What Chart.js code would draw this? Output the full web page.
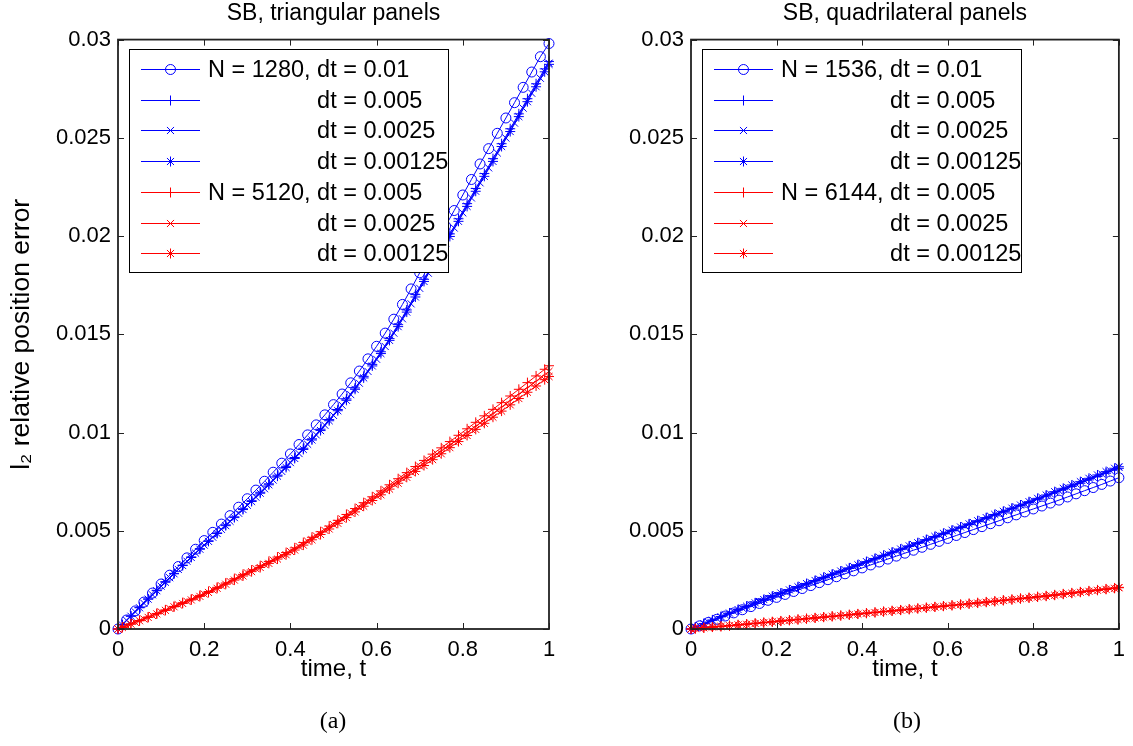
<!DOCTYPE html>
<html><head><meta charset="utf-8">
<script src="https://cdn.jsdelivr.net/npm/chart.js@4.4.1/dist/chart.umd.min.js"></script>
<style>
html,body{margin:0;padding:0;background:#fff;width:1133px;height:746px;overflow:hidden;position:relative}
canvas{position:absolute;top:0}
#c1{left:0}
#c2{left:566px}
.cap{position:absolute;top:706px;width:120px;text-align:center;font-family:'Liberation Serif','Times New Roman',serif;font-size:24px;color:#000;line-height:28px}
</style></head><body>
<canvas id="c1" width="566" height="746"></canvas>
<canvas id="c2" width="567" height="746"></canvas>
<div class="cap" style="left:273px">(a)</div>
<div class="cap" style="left:847px">(b)</div>
<script>
// ---- data ----
// sample times (two interleaved samplings of the time axis)
const timeEven = [0,0.02,0.04,0.06,0.08,0.1,0.12,0.14,0.16,0.18,0.2,0.22,0.24,0.26,0.28,0.3,0.32,0.34,0.36,0.38,0.4,0.42,0.44,0.46,0.48,0.5,0.52,0.54,0.56,0.58,0.6,0.62,0.64,0.66,0.68,0.7,0.72,0.74,0.76,0.78,0.8,0.82,0.84,0.86,0.88,0.9,0.92,0.94,0.96,0.98,1];
const timeOdd = [0,0.01,0.03,0.05,0.07,0.09,0.11,0.13,0.15,0.17,0.19,0.21,0.23,0.25,0.27,0.29,0.31,0.33,0.35,0.37,0.39,0.41,0.43,0.45,0.47,0.49,0.51,0.53,0.55,0.57,0.59,0.61,0.63,0.65,0.67,0.69,0.71,0.73,0.75,0.77,0.79,0.81,0.83,0.85,0.87,0.89,0.91,0.93,0.95,0.97,0.99,1];
const xTickLabels = ['0','0.2','0.4','0.6','0.8','1'];
const yTickLabels = ['0','0.005','0.01','0.015','0.02','0.025','0.03'];

const triLabels = ['N = 1280, dt = 0.01','dt = 0.005','dt = 0.0025','dt = 0.00125','N = 5120, dt = 0.005','dt = 0.0025','dt = 0.00125'];
const quadLabels = ['N = 1536, dt = 0.01','dt = 0.005','dt = 0.0025','dt = 0.00125','N = 6144, dt = 0.005','dt = 0.0025','dt = 0.00125'];

// triangular panels, N = 1280
const triBlue01 = [0,0.00046,0.00092,0.00137,0.00183,0.00229,0.00274,0.00318,0.00362,0.00406,0.00450,0.00492,0.00534,0.00577,0.00620,0.00663,0.00707,0.00752,0.00798,0.00844,0.00891,0.00939,0.00988,0.01039,0.01090,0.01142,0.01196,0.01253,0.01313,0.01375,0.01439,0.01506,0.01577,0.01652,0.01731,0.01813,0.01893,0.01972,0.02051,0.02130,0.02209,0.02288,0.02367,0.02445,0.02523,0.02601,0.02679,0.02757,0.02835,0.02913,0.02980];
const triBlue005 = [0,0.00022,0.00066,0.00110,0.00153,0.00197,0.00241,0.00283,0.00325,0.00367,0.00409,0.00449,0.00489,0.00530,0.00571,0.00612,0.00653,0.00696,0.00739,0.00783,0.00828,0.00873,0.00920,0.00968,0.01017,0.01066,0.01117,0.01171,0.01227,0.01286,0.01347,0.01411,0.01478,0.01549,0.01624,0.01702,0.01780,0.01857,0.01934,0.02011,0.02088,0.02165,0.02242,0.02318,0.02394,0.02470,0.02546,0.02622,0.02699,0.02775,0.02851,0.02889];
const triBlue0025 = [0,0.00044,0.00087,0.00131,0.00174,0.00218,0.00261,0.00303,0.00345,0.00386,0.00427,0.00467,0.00507,0.00548,0.00589,0.00630,0.00671,0.00714,0.00758,0.00802,0.00847,0.00893,0.00940,0.00988,0.01037,0.01087,0.01139,0.01193,0.01251,0.01311,0.01373,0.01438,0.01506,0.01579,0.01655,0.01734,0.01811,0.01888,0.01964,0.02041,0.02118,0.02194,0.02271,0.02347,0.02423,0.02499,0.02575,0.02651,0.02727,0.02803,0.02880];
const triBlue00125 = [0,0.00021,0.00065,0.00108,0.00152,0.00195,0.00238,0.00281,0.00323,0.00364,0.00406,0.00446,0.00486,0.00526,0.00567,0.00608,0.00649,0.00691,0.00734,0.00778,0.00822,0.00868,0.00914,0.00962,0.01010,0.01060,0.01111,0.01164,0.01220,0.01278,0.01339,0.01402,0.01469,0.01539,0.01613,0.01690,0.01769,0.01846,0.01922,0.01998,0.02075,0.02151,0.02228,0.02304,0.02380,0.02456,0.02532,0.02608,0.02684,0.02760,0.02836,0.02874];
// triangular panels, N = 5120
const triRed005 = [0,0.00009,0.00026,0.00043,0.00061,0.00079,0.00097,0.00115,0.00134,0.00152,0.00171,0.00191,0.00212,0.00234,0.00256,0.00278,0.00300,0.00322,0.00344,0.00366,0.00389,0.00413,0.00440,0.00467,0.00495,0.00524,0.00553,0.00583,0.00613,0.00643,0.00673,0.00703,0.00734,0.00765,0.00796,0.00827,0.00858,0.00890,0.00922,0.00954,0.00986,0.01019,0.01052,0.01085,0.01118,0.01152,0.01186,0.01220,0.01254,0.01288,0.01322,0.01340];
const triRed0025 = [0,0.00017,0.00034,0.00051,0.00069,0.00087,0.00105,0.00123,0.00141,0.00159,0.00178,0.00199,0.00220,0.00242,0.00264,0.00286,0.00307,0.00329,0.00351,0.00373,0.00395,0.00420,0.00447,0.00474,0.00502,0.00531,0.00560,0.00590,0.00619,0.00649,0.00678,0.00708,0.00738,0.00768,0.00798,0.00829,0.00860,0.00891,0.00922,0.00953,0.00984,0.01016,0.01048,0.01080,0.01113,0.01146,0.01179,0.01212,0.01245,0.01278,0.01311];
const triRed00125 = [0,0.00008,0.00025,0.00042,0.00059,0.00077,0.00095,0.00113,0.00130,0.00148,0.00166,0.00186,0.00207,0.00228,0.00249,0.00270,0.00292,0.00313,0.00334,0.00356,0.00378,0.00402,0.00427,0.00454,0.00481,0.00509,0.00538,0.00567,0.00596,0.00625,0.00654,0.00683,0.00712,0.00742,0.00772,0.00802,0.00832,0.00862,0.00892,0.00923,0.00954,0.00985,0.01016,0.01047,0.01078,0.01109,0.01141,0.01173,0.01205,0.01237,0.01269,0.01285];

// quadrilateral panels, N = 1536
const quadBlue01 = [0,0.00016,0.00033,0.00049,0.00066,0.00082,0.00098,0.00114,0.00130,0.00146,0.00161,0.00176,0.00191,0.00206,0.00221,0.00236,0.00251,0.00266,0.00281,0.00296,0.00311,0.00326,0.00341,0.00356,0.00371,0.00386,0.00401,0.00416,0.00431,0.00446,0.00461,0.00476,0.00491,0.00506,0.00521,0.00536,0.00551,0.00566,0.00581,0.00596,0.00611,0.00626,0.00641,0.00656,0.00672,0.00688,0.00704,0.00720,0.00736,0.00753,0.00770];
const quadBlue005 = [0,0.00009,0.00027,0.00045,0.00062,0.00080,0.00097,0.00114,0.00131,0.00147,0.00164,0.00180,0.00196,0.00212,0.00228,0.00244,0.00260,0.00276,0.00292,0.00308,0.00324,0.00340,0.00356,0.00372,0.00388,0.00404,0.00420,0.00436,0.00452,0.00468,0.00484,0.00500,0.00516,0.00532,0.00548,0.00564,0.00580,0.00596,0.00612,0.00628,0.00644,0.00660,0.00676,0.00692,0.00709,0.00725,0.00742,0.00759,0.00776,0.00793,0.00810,0.00818];
const quadBlue0025 = [0,0.00018,0.00036,0.00054,0.00072,0.00089,0.00106,0.00123,0.00140,0.00157,0.00174,0.00190,0.00206,0.00222,0.00238,0.00254,0.00270,0.00286,0.00302,0.00318,0.00334,0.00350,0.00366,0.00382,0.00398,0.00414,0.00430,0.00446,0.00462,0.00478,0.00494,0.00510,0.00526,0.00542,0.00558,0.00574,0.00590,0.00606,0.00622,0.00638,0.00654,0.00670,0.00687,0.00704,0.00721,0.00738,0.00755,0.00772,0.00789,0.00806,0.00823];
const quadBlue00125 = [0,0.00009,0.00027,0.00045,0.00063,0.00081,0.00099,0.00116,0.00133,0.00150,0.00167,0.00183,0.00199,0.00215,0.00231,0.00247,0.00263,0.00279,0.00295,0.00311,0.00327,0.00343,0.00359,0.00375,0.00391,0.00407,0.00423,0.00439,0.00455,0.00471,0.00487,0.00503,0.00519,0.00535,0.00551,0.00567,0.00583,0.00599,0.00615,0.00631,0.00648,0.00665,0.00682,0.00699,0.00716,0.00733,0.00750,0.00767,0.00784,0.00801,0.00818,0.00826];
// quadrilateral panels, N = 6144
const quadRed005 = [0,0.00002,0.00006,0.00010,0.00014,0.00017,0.00021,0.00025,0.00029,0.00033,0.00037,0.00041,0.00045,0.00049,0.00053,0.00057,0.00061,0.00065,0.00069,0.00073,0.00077,0.00081,0.00085,0.00089,0.00093,0.00097,0.00101,0.00105,0.00109,0.00113,0.00117,0.00121,0.00125,0.00130,0.00134,0.00138,0.00142,0.00147,0.00151,0.00156,0.00160,0.00165,0.00169,0.00174,0.00179,0.00184,0.00189,0.00194,0.00199,0.00204,0.00209,0.00212];
const quadRed0025 = [0,0.00004,0.00008,0.00011,0.00015,0.00019,0.00023,0.00027,0.00031,0.00035,0.00039,0.00042,0.00046,0.00050,0.00054,0.00058,0.00062,0.00066,0.00070,0.00074,0.00078,0.00082,0.00086,0.00090,0.00094,0.00098,0.00102,0.00106,0.00110,0.00114,0.00118,0.00122,0.00126,0.00131,0.00135,0.00139,0.00143,0.00148,0.00152,0.00157,0.00161,0.00166,0.00170,0.00175,0.00180,0.00185,0.00190,0.00195,0.00200,0.00205,0.00211];
const quadRed00125 = [0,0.00002,0.00006,0.00010,0.00013,0.00017,0.00021,0.00024,0.00028,0.00032,0.00036,0.00040,0.00044,0.00048,0.00052,0.00056,0.00060,0.00064,0.00068,0.00072,0.00076,0.00080,0.00084,0.00088,0.00092,0.00096,0.00100,0.00104,0.00108,0.00112,0.00116,0.00120,0.00124,0.00128,0.00132,0.00136,0.00140,0.00145,0.00149,0.00154,0.00158,0.00163,0.00167,0.00172,0.00177,0.00182,0.00187,0.00192,0.00197,0.00202,0.00207,0.00210];

// which sampling each series uses (same order as the legend)
const seriesTimes = [timeEven, timeOdd, timeEven, timeOdd, timeOdd, timeEven, timeOdd];

// ---- styles ----
const seriesColors = ['#0000ff','#0000ff','#0000ff','#0000ff','#ff0000','#ff0000','#ff0000'];
const seriesMarkers = ['circle','cross','crossRot','star','cross','crossRot','star'];
const FONT = '"Liberation Sans", Arial, Helvetica, sans-serif';
Chart.defaults.font.family = FONT;
Chart.defaults.color = '#000';

function drawMarker(ctx, style, x, y, r) {
  ctx.beginPath();
  if (style === 'circle') {
    ctx.arc(x, y, r, 0, Math.PI * 2);
  }
  if (style === 'cross' || style === 'star') {
    ctx.moveTo(x - r, y); ctx.lineTo(x + r, y);
    ctx.moveTo(x, y - r); ctx.lineTo(x, y + r);
  }
  if (style === 'crossRot' || style === 'star') {
    const d = r * Math.SQRT1_2;
    ctx.moveTo(x - d, y - d); ctx.lineTo(x + d, y + d);
    ctx.moveTo(x - d, y + d); ctx.lineTo(x + d, y - d);
  }
  ctx.stroke();
}

const boxPlugin = {
  id: 'matBox',
  afterDatasetsDraw(chart) {
    const {ctx, chartArea: a, scales: {x, y}} = chart;
    ctx.save();
    ctx.strokeStyle = '#222';
    ctx.lineWidth = 1;
    ctx.beginPath();
    x.ticks.forEach(t => {
      const px = Math.round(x.getPixelForValue(t.value)) + 0.5;
      ctx.moveTo(px, a.bottom); ctx.lineTo(px, a.bottom - 6);
      ctx.moveTo(px, a.top); ctx.lineTo(px, a.top + 6);
    });
    y.ticks.forEach(t => {
      const py = Math.round(y.getPixelForValue(t.value)) + 0.5;
      ctx.moveTo(a.left, py); ctx.lineTo(a.left + 6, py);
      ctx.moveTo(a.right, py); ctx.lineTo(a.right - 6, py);
    });
    ctx.stroke();
    ctx.lineWidth = 1.8;
    ctx.strokeRect(a.left, a.top, a.right - a.left, a.bottom - a.top);
    ctx.restore();
  }
};

const legendPlugin = {
  id: 'matLegend',
  afterDraw(chart) {
    const {ctx, chartArea: a} = chart;
    const ds = chart.data.datasets;
    const bx = Math.round(a.left) + 11, by = Math.round(a.top) + 9, bw = 319, bh = 223;
    ctx.save();
    ctx.fillStyle = '#fff';
    ctx.fillRect(bx, by, bw, bh);
    ctx.strokeStyle = '#000';
    ctx.lineWidth = 1;
    ctx.strokeRect(bx + 0.5, by + 0.5, bw, bh);
    ctx.font = '23.5px ' + FONT;
    ctx.textBaseline = 'middle';
    ctx.textAlign = 'left';
    const first = ds[0].label;
    const indent = ctx.measureText(first.slice(0, first.indexOf('dt'))).width;
    ds.forEach((d, i) => {
      const cy = Math.round(by + 20 + i * 30.7) + 0.5;
      ctx.strokeStyle = d.borderColor;
      ctx.lineWidth = 1;
      ctx.beginPath(); ctx.moveTo(bx + 12, cy); ctx.lineTo(bx + 71, cy); ctx.stroke();
      drawMarker(ctx, d.pointStyle, bx + 41.5, cy, 5);
      ctx.fillStyle = '#000';
      const tx = bx + 79 + (d.label.startsWith('N') ? 0 : indent);
      ctx.fillText(d.label, tx, cy + 1);
    });
    ctx.restore();
  }
};

function makeDatasets(labels, seriesArrays) {
  return seriesArrays.map((vals, i) => ({
    label: labels[i],
    data: seriesTimes[i].map((t, k) => ({x: t, y: vals[k]})),
    borderColor: seriesColors[i],
    backgroundColor: seriesColors[i],
    borderWidth: 1,
    pointStyle: seriesMarkers[i],
    pointRadius: 5,
    pointHoverRadius: 5,
    pointBorderWidth: 1,
    pointBorderColor: seriesColors[i],
    pointBackgroundColor: 'rgba(0,0,0,0)',
    fill: false,
    tension: 0,
    clip: false,
    order: 10 - i
  }));
}

function makeChart(id, titleText, labels, seriesArrays, yWidth, padRight, showYTitle) {
  return new Chart(document.getElementById(id), {
    type: 'line',
    data: {datasets: makeDatasets(labels, seriesArrays)},
    options: {
      responsive: false,
      animation: false,
      devicePixelRatio: 1,
      events: [],
      layout: {padding: {left: 0, right: padRight, top: 0, bottom: 46}},
      plugins: {
        legend: {display: false},
        tooltip: {enabled: false},
        title: {
          display: true, text: titleText, fullSize: false,
          font: {size: 23, weight: 'normal'}, color: '#000',
          padding: {top: 0, bottom: 12}
        }
      },
      scales: {
        x: {
          type: 'linear', min: 0, max: 1,
          grid: {display: false, drawTicks: false},
          border: {display: false},
          ticks: {
            stepSize: 0.2, autoSkip: false, maxRotation: 0, padding: 8,
            font: {size: 22}, color: '#000',
            callback: (v, i) => xTickLabels[i]
          },
          title: {display: true, text: 'time, t', font: {size: 24}, color: '#000', padding: {top: 0, bottom: 16}},
          afterFit: s => { s.height = 71; }
        },
        y: {
          type: 'linear', min: 0, max: 0.03,
          grid: {display: false, drawTicks: false},
          border: {display: false},
          ticks: {
            stepSize: 0.005, autoSkip: false, padding: 7,
            font: {size: 22}, color: '#000',
            callback: (v, i) => yTickLabels[i]
          },
          title: {display: showYTitle, text: 'l\u2082 relative position error', font: {size: 26.5}, color: '#000', padding: {top: 6, bottom: 0}},
          afterFit: s => { s.width = yWidth; }
        }
      }
    },
    plugins: [boxPlugin, legendPlugin]
  });
}

makeChart('c1', 'SB, triangular panels', triLabels,
  [triBlue01, triBlue005, triBlue0025, triBlue00125, triRed005, triRed0025, triRed00125], 118, 17, true);
makeChart('c2', 'SB, quadrilateral panels', quadLabels,
  [quadBlue01, quadBlue005, quadBlue0025, quadBlue00125, quadRed005, quadRed0025, quadRed00125], 125, 10, false);
</script>
</body></html>
